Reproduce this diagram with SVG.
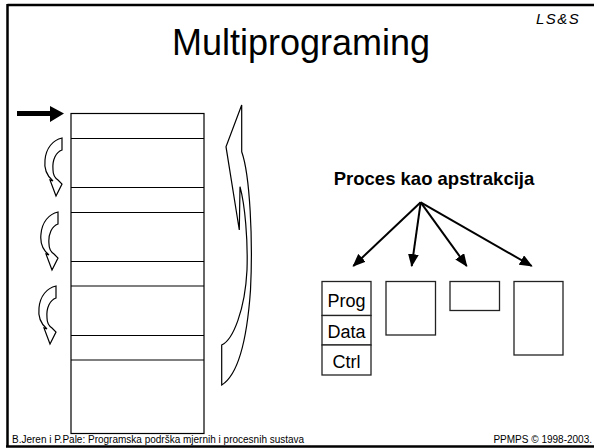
<svg xmlns="http://www.w3.org/2000/svg" width="594" height="448" viewBox="0 0 594 448">
<style>
.frame{stroke:#000;stroke-width:2.5;fill:none}
.ln{stroke:#000;stroke-width:1.2;fill:none}
.box{stroke:#222;stroke-width:1.3;fill:#fff}
.shape{stroke:#000;stroke-width:1.2;fill:#fff;stroke-linejoin:miter}
.conn{stroke:#000;stroke-width:2;fill:none}
.t{font-family:"Liberation Sans",Arial,sans-serif;fill:#000}
</style>
<defs>
<marker id="ah" viewBox="0 0 12 10" refX="11" refY="5" markerWidth="6.5" markerHeight="5.5" orient="auto" markerUnits="strokeWidth">
<path d="M0,0 L12,5 L0,10 Z" fill="#000"/>
</marker>
<path id="carrow" d="M19,0 L19,12 C13,14 9,22 10,32 C10,37 12,40 15,42 L19,46 L13,58 L7,42 L10,43 C4,38 1,30 2,22 C3,10 10,2 19,0 Z"/>
</defs>
<rect width="594" height="448" fill="#fff"/>
<g id="frame">
<path class="frame" d="M7.5,5 L594,5 M7.5,4 L7.5,447 M6,446.5 L594,446.5"/>
</g>
<g id="title">
<text class="t" x="301" y="55" font-size="36" text-anchor="middle">Multiprograming</text>
<text class="t" x="536" y="24" font-size="15" font-style="italic" letter-spacing="1.5">LS&amp;S</text>
</g>
<g id="memory">
<rect class="ln" x="71" y="113.5" width="133" height="320"/>
<path class="ln" d="M71,138.5H204 M71,187.5H204 M71,212.5H204 M71,261.5H204 M71,286H204 M71,335.5H204 M71,360H204"/>
</g>
<g id="pointer">
<path d="M17,111 L50,111 L50,106 L64,113.5 L50,122 L50,116 L17,116 Z" fill="#000"/>
</g>
<g id="switches">
<use href="#carrow" class="shape" transform="translate(43,138)"/>
<use href="#carrow" class="shape" transform="translate(39,212)"/>
<use href="#carrow" class="shape" transform="translate(37,286)"/>
</g>
<g id="cycle">
<path class="shape" d="M241.7,105 L241.7,151.7 C250,175 253,240 250.5,290 C247,340 238,375 221.7,385 L221.7,345 C233,340 245,310 247,270 C248,240 245,205 240,186.7 L239.3,230 L226,146.7 Z"/>
</g>
<g id="process-label">
<text class="t" x="434" y="185" font-size="18.5" font-weight="bold" text-anchor="middle">Proces kao apstrakcija</text>
</g>
<g id="connectors">
<line class="conn" x1="420.7" y1="202.3" x2="353.3" y2="266" marker-end="url(#ah)"/>
<line class="conn" x1="420.7" y1="202.3" x2="411.7" y2="266" marker-end="url(#ah)"/>
<line class="conn" x1="420.7" y1="202.3" x2="466.7" y2="266" marker-end="url(#ah)"/>
<line class="conn" x1="420.7" y1="202.3" x2="531.7" y2="266" marker-end="url(#ah)"/>
</g>
<g id="process1">
<rect class="box" x="322" y="281.5" width="49" height="34"/>
<rect class="box" x="322" y="315.5" width="49" height="29.5"/>
<rect class="box" x="322" y="345" width="49" height="30"/>
<text class="t" x="346.5" y="306.5" font-size="18" text-anchor="middle">Prog</text>
<text class="t" x="346.5" y="337.5" font-size="18" text-anchor="middle">Data</text>
<text class="t" x="346.5" y="367.5" font-size="18" text-anchor="middle">Ctrl</text>
</g>
<g id="process2">
<rect class="box" x="386" y="281.5" width="49.5" height="53.5"/>
</g>
<g id="process3">
<rect class="box" x="450" y="281.5" width="49.5" height="29"/>
</g>
<g id="process4">
<rect class="box" x="514" y="281.5" width="49" height="73.5"/>
</g>
<g id="footer">
<text class="t" x="12" y="443" font-size="10">B.Jeren i P.Pale: Programska podrška mjernih i procesnih sustava</text>
<text class="t" x="592" y="443" font-size="10" text-anchor="end">PPMPS © 1998-2003.</text>
</g>
</svg>
